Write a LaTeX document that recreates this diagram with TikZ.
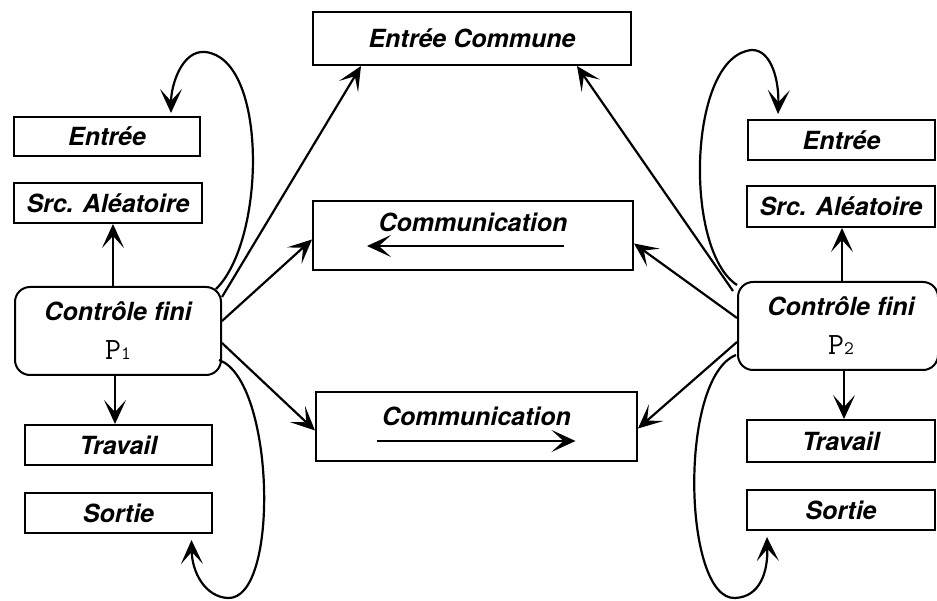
\documentclass[tikz,border=0pt]{standalone}
\usepackage{fontspec}
\setmainfont{TeX Gyre Heros}
\usetikzlibrary{arrows.meta,calc}
\begin{document}
\begin{tikzpicture}[x=1pt,y=-1pt,
  box/.style={draw,line width=2pt,inner sep=0pt},
  lbl/.style={inner sep=0pt,font=\fontsize{25}{28}\selectfont\bfseries\itshape},
  plbl/.style={inner sep=0pt,font=\fontsize{31}{33}\ttfamily},
  tip/.tip={Stealth[length=24pt,width=22pt,inset=12pt]},
  conn/.style={line width=2.2pt,-tip},
  inarr/.style={line width=2.2pt,-tip},
  loopar/.style={line width=2.2pt,-tip}]
\useasboundingbox (0,0) rectangle (937,601);
\fill[white] (0,0) rectangle (937,601);
% left column
\node[box,minimum width=186pt,minimum height=39pt] (E1) at (107,136.5) {};
\node[lbl] (E1t) at (E1) {Entrée};
\node[box,minimum width=188pt,minimum height=40pt] (S1) at (108,203) {};
\node[lbl] (S1t) at (S1) {Src. Aléatoire};
\node[box,rounded corners=15pt,minimum width=206pt,minimum height=88pt] (C1) at (118,331) {};
\node[lbl] (C1t) at (118,311) {Contrôle fini};
\node[plbl] (C1p) at (118,350) {P{\fontsize{19}{19}\selectfont 1}};
\node[box,minimum width=187pt,minimum height=40pt] (T1) at (118.5,445) {};
\node[lbl] (T1t) at (T1) {Travail};
\node[box,minimum width=187pt,minimum height=40pt] (O1) at (118.5,513) {};
\node[lbl] (O1t) at (O1) {Sortie};
% centre column
\node[box,minimum width=318pt,minimum height=53pt] (EC) at (472,38.5) {};
\node[lbl] (ECt) at (EC) {Entrée Commune};
\node[box,minimum width=320pt,minimum height=69pt] (M1) at (473,235.5) {};
\node[lbl] (M1t) at ($(M1)+(0,-13)$) {Communication};
\coordinate (M1a) at ($(M1)+(91,10.5)$);
\coordinate (M1b) at ($(M1)+(-106,10.5)$);
\draw[inarr] (M1a) -- (M1b);
\node[box,minimum width=321pt,minimum height=69pt] (M2) at (476.5,426.5) {};
\node[lbl] (M2t) at ($(M2)+(0,-10)$) {Communication};
\coordinate (M2a) at ($(M2)+(-100,14.5)$);
\coordinate (M2b) at ($(M2)+(99,14.5)$);
\draw[inarr] (M2a) -- (M2b);
% right column
\node[box,minimum width=187pt,minimum height=40pt] (E2) at (841.5,140) {};
\node[lbl] (E2t) at (E2) {Entrée};
\node[box,minimum width=188pt,minimum height=41pt] (S2) at (841,206.5) {};
\node[lbl] (S2t) at (S2) {Src. Aléatoire};
\node[box,rounded corners=15pt,minimum width=200pt,minimum height=88pt] (C2) at (838,326) {};
\node[lbl] (C2t) at (841,306) {Contrôle fini};
\node[plbl] (C2p) at (841,345) {P{\fontsize{19}{19}\selectfont 2}};
\node[box,minimum width=188pt,minimum height=42pt] (T2) at (841,441) {};
\node[lbl] (T2t) at (T2) {Travail};
\node[box,minimum width=188pt,minimum height=40pt] (O2) at (841,510) {};
\node[lbl] (O2t) at (O2) {Sortie};
% vertical arrows
\draw[conn] ([xshift=-5pt]C1.north) -- ([xshift=-5pt]C1.north |- S1.south);
\draw[conn] ([xshift=-3pt]C1.south) -- ([xshift=-3pt]C1.south |- T1.north);
\draw[conn] ([xshift=4pt]C2.north) -- ([xshift=4pt]C2.north |- S2.south);
\draw[conn] ([xshift=6pt]C2.south) -- ([xshift=6pt]C2.south |- T2.north);
% left straight arrows
\draw[conn] ($(C1.east)+(0,-34)$) -- ($(EC.south west)+(49,0)$);
\draw[conn] ($(C1.east)+(0,-10)$) -- ($(M1.west)+(0,4)$);
\draw[conn] ($(C1.east)+(0,12)$) -- ($(M2.west)+(0,4)$);
% right straight arrows
\draw[conn] ($(C2.west)+(-4,-35)$) -- ($(EC.south east)+(-55,0)$);
\draw[conn] ($(C2.west)+(0,-8)$) -- ($(M1.east)+(0,8)$);
\draw[conn] ($(C2.west)+(0,16)$) -- ($(M2.east)+(0,2)$);
% loops
\draw[loopar] ($(C1.north east)+(-6,3)$) .. controls (266,240) and (268,58) .. (205,52)
  .. controls (182,50) and (171,85) .. ($(E1.north)+(64,-3)$);
\draw[loopar] ($(C1.east)+(-3,29)$) .. controls (275,380) and (280,600) .. (228,598)
  .. controls (205,597) and (192,572) .. ($(O1.south)+(73,6)$);
\draw[loopar] ($(C2.north west)+(0,4)$) .. controls (683,250) and (688,55) .. (752,50)
  .. controls (772,50) and (779,82) .. ($(E2.north)+(-63.5,-5)$);
\draw[loopar] ($(C2.west)+(-1,29)$) .. controls (678,378) and (683,600) .. (735,598)
  .. controls (760,597) and (768,572) .. ($(O2.south)+(-74,6)$);
\end{tikzpicture}
\end{document}
